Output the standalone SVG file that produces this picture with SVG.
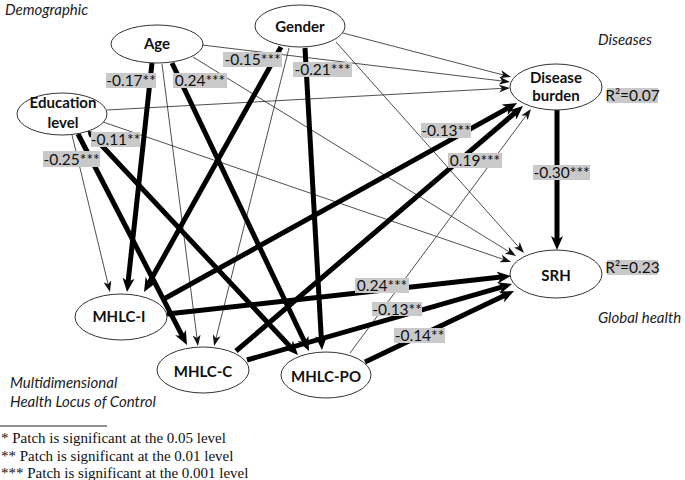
<svg xmlns="http://www.w3.org/2000/svg" width="685" height="480" viewBox="0 0 685 480">
<style>
  .node ellipse { fill: #fff; stroke: #333; stroke-width: 1; }
  .nlabel { font-family: Lato, "Liberation Sans", sans-serif; font-weight: bold; font-size: 15px; fill: #111; text-anchor: middle; }
  .thin { stroke: #222; stroke-width: 0.8; fill: none; marker-end: url(#ah); }
  .thick { stroke: #000; stroke-width: 5; fill: none; marker-end: url(#ahT); }
  .lbox { fill: #c9c9c9; }
  .ltxt { font-family: Lato, "Liberation Sans", sans-serif; font-size: 15.5px; fill: #111; text-anchor: middle; }
  .cat { font-family: Lato, "Liberation Sans", sans-serif; font-style: italic; font-size: 15px; fill: #222; }
  .foot { font-family: "Liberation Serif", "Times New Roman", serif; font-size: 15px; fill: #111; }
</style>
<defs>
  <marker id="ah" viewBox="0 0 11 8" refX="3" refY="4" markerWidth="11" markerHeight="8" markerUnits="userSpaceOnUse" orient="auto">
    <path d="M0,0 L11,4 L0,8 L3,4 z" fill="#111"/>
  </marker>
  <marker id="ahT" viewBox="0 0 14 12" refX="4" refY="6" markerWidth="14" markerHeight="12" markerUnits="userSpaceOnUse" orient="auto">
    <path d="M0,0 L14,6 L0,12 L4,6 z" fill="#000"/>
  </marker>
</defs>
<rect width="685" height="480" fill="#fff"/>

<g id="connectors">
  <!-- thin -->
  <line class="thin" x1="202" y1="45" x2="502.1" y2="81.0"/>
  <line class="thin" x1="343" y1="33" x2="503.3" y2="75.0"/>
  <line class="thin" x1="107" y1="110" x2="502.0" y2="88.4"/>
  <line class="thin" x1="350" y1="353" x2="526.2" y2="115.4"/>
  <line class="thin" x1="193" y1="57" x2="509.2" y2="251.8"/>
  <line class="thin" x1="336" y1="42" x2="518.7" y2="247.0"/>
  <line class="thin" x1="103" y1="122" x2="503.4" y2="259.4"/>
  <line class="thin" x1="72" y1="135" x2="108.1" y2="284.2"/>
  <line class="thin" x1="162" y1="64" x2="197.0" y2="338.1"/>
  <line class="thin" x1="289" y1="48" x2="216.0" y2="338.2"/>
  <!-- thick -->
  <line class="thick" x1="152" y1="63" x2="128.1" y2="282.1"/>
  <line class="thick" x1="281" y1="47" x2="148.9" y2="283.3"/>
  <line class="thick" x1="78" y1="134" x2="182.4" y2="336.1"/>
  <line class="thick" x1="90" y1="133" x2="291.2" y2="347.7"/>
  <polygon points="87,130 94,133.1 89.6,137.2" fill="#000"/>
  <line class="thick" x1="172" y1="63" x2="304.7" y2="342.0"/>
  <line class="thick" x1="305" y1="48" x2="321.4" y2="340.0"/>
  <line class="thick" x1="162" y1="300" x2="508.3" y2="107.9"/>
  <line class="thick" x1="236" y1="351" x2="515.4" y2="112.5"/>
  <line class="thick" x1="167" y1="314" x2="501.1" y2="277.1"/>
  <line class="thick" x1="247" y1="360" x2="502.4" y2="286.8"/>
  <line class="thick" x1="365" y1="362" x2="505.0" y2="295.3"/>
  <line class="thick" x1="557" y1="110" x2="557" y2="240"/>
</g>

<g id="edge-labels">
  <rect class="lbox" x="106" y="73" width="50" height="15"/><text class="ltxt" x="131" y="86">-0.17**</text>
  <rect class="lbox" x="173" y="73" width="54" height="15"/><text class="ltxt" x="200" y="86">0.24***</text>
  <rect class="lbox" x="223" y="52" width="59" height="15"/><text class="ltxt" x="252.5" y="65">-0.15***</text>
  <rect class="lbox" x="293" y="62" width="59" height="15"/><text class="ltxt" x="322.5" y="75">-0.21***</text>
  <rect class="lbox" x="91" y="132" width="49" height="15"/><text class="ltxt" x="115.5" y="145">-0.11**</text>
  <rect class="lbox" x="43" y="151" width="57" height="16"/><text class="ltxt" x="71.5" y="164.5">-0.25***</text>
  <rect class="lbox" x="421" y="123" width="50" height="15"/><text class="ltxt" x="446" y="136">-0.13**</text>
  <rect class="lbox" x="448" y="153" width="54" height="15"/><text class="ltxt" x="475" y="166">0.19***</text>
  <rect class="lbox" x="533" y="165" width="57" height="15"/><text class="ltxt" x="561.5" y="178">-0.30***</text>
  <rect class="lbox" x="355" y="278" width="54" height="15"/><text class="ltxt" x="382" y="291">0.24***</text>
  <rect class="lbox" x="372" y="302" width="50" height="14"/><text class="ltxt" x="397" y="314.5">-0.13**</text>
  <rect class="lbox" x="394" y="328" width="51" height="15"/><text class="ltxt" x="419.5" y="341">-0.14**</text>
  <rect class="lbox" x="607" y="88" width="51" height="15"/><text class="ltxt" x="632.5" y="101">R²=0.07</text>
  <rect class="lbox" x="607" y="260" width="51" height="15"/><text class="ltxt" x="632.5" y="273">R²=0.23</text>
</g>

<g id="age" class="node"><ellipse cx="157" cy="44" rx="46" ry="19"/><text class="nlabel" x="157" y="49">Age</text></g>
<g id="gender" class="node"><ellipse cx="300" cy="26" rx="45" ry="21"/><text class="nlabel" x="300" y="32">Gender</text></g>
<g id="education" class="node"><ellipse cx="62" cy="114" rx="45" ry="21"/><text class="nlabel" x="63" y="108">Education</text><text class="nlabel" x="63" y="128">level</text></g>
<g id="disease" class="node"><ellipse cx="556" cy="87" rx="46" ry="23"/><text class="nlabel" x="556" y="83">Disease</text><text class="nlabel" x="556" y="101">burden</text></g>
<g id="srh" class="node"><ellipse cx="556" cy="274" rx="46" ry="24"/><text class="nlabel" x="556" y="281">SRH</text></g>
<g id="mhlc-i" class="node"><ellipse cx="121" cy="317" rx="46" ry="23"/><text class="nlabel" x="119" y="322">MHLC-I</text></g>
<g id="mhlc-c" class="node"><ellipse cx="203" cy="370" rx="46" ry="23"/><text class="nlabel" x="203" y="377">MHLC-C</text></g>
<g id="mhlc-po" class="node"><ellipse cx="326" cy="375" rx="45" ry="23"/><text class="nlabel" x="326" y="382">MHLC-PO</text></g>

<g id="categories">
  <text class="cat" x="5" y="15">Demographic</text>
  <text class="cat" x="598" y="45">Diseases</text>
  <text class="cat" x="598" y="323">Global health</text>
  <text class="cat" x="10" y="388">Multidimensional</text>
  <text class="cat" x="10" y="407">Health Locus of Control</text>
</g>

<g id="footnotes">
  <line x1="0" y1="426" x2="107" y2="426" stroke="#222" stroke-width="1"/>
  <text class="foot" x="1" y="443">* Patch is significant at the 0.05 level</text>
  <text class="foot" x="1" y="461">** Patch is significant at the 0.01 level</text>
  <text class="foot" x="1" y="478">*** Patch is significant at the 0.001 level</text>
</g>
</svg>
